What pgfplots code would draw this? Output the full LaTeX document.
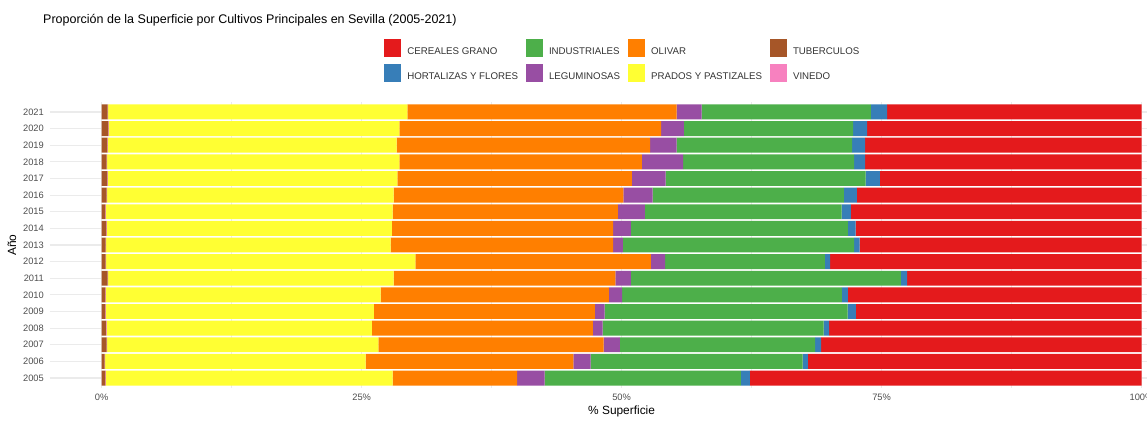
\documentclass[border=0pt]{standalone}
\usepackage{pgfplots}
\usepackage{pgfplotstable}
\pgfplotsset{compat=1.18}
\usepackage{fontspec}
\setmainfont{Liberation Sans}

\definecolor{cCer}{HTML}{E41A1C}
\definecolor{cHor}{HTML}{377EB8}
\definecolor{cInd}{HTML}{4DAF4A}
\definecolor{cLeg}{HTML}{984EA3}
\definecolor{cOli}{HTML}{FF7F00}
\definecolor{cPra}{HTML}{FFFF33}
\definecolor{cTub}{HTML}{A65628}
\definecolor{cVin}{HTML}{F781BF}
\definecolor{grid92}{HTML}{EBEBEB}
\definecolor{grey30}{HTML}{4D4D4D}

\pgfplotstableread{
year tub  vin  pra   oli   leg  ind   hor  cer
2005 0.35 0.05 27.58 11.98 2.64 18.87 0.87 37.66
2006 0.29 0.05 25.04 19.97 1.67 20.38 0.51 32.09
2007 0.48 0.05 26.07 21.67 1.57 18.78 0.57 30.81
2008 0.42 0.05 25.52 21.25 0.93 21.25 0.54 30.04
2009 0.35 0.05 25.78 21.25 0.94 23.36 0.80 27.47
2010 0.35 0.05 26.43 21.95 1.28 21.12 0.58 28.24
2011 0.58 0.05 27.45 21.31 1.50 25.97 0.60 22.54
2012 0.38 0.05 29.73 22.66 1.37 15.36 0.51 29.94
2013 0.38 0.05 27.36 21.40 0.94 22.24 0.51 27.12
2014 0.45 0.05 27.41 21.28 1.70 20.87 0.74 27.50
2015 0.35 0.05 27.58 21.66 2.60 18.91 0.90 27.95
2016 0.48 0.05 27.55 22.08 2.82 18.40 1.25 27.37
2017 0.55 0.05 27.83 22.56 3.24 19.23 1.38 25.16
2018 0.48 0.05 28.09 23.33 3.97 16.45 1.05 26.58
2019 0.55 0.05 27.77 24.38 2.54 16.88 1.25 26.58
2020 0.64 0.05 27.93 25.19 2.18 16.28 1.35 26.38
2021 0.58 0.05 28.76 25.90 2.40 16.28 1.57 24.46
}\datatable

\begin{document}
\begin{tikzpicture}
\begin{axis}[
  at={(0pt,0pt)}, anchor=south west,
  scale only axis,
  width=1143.8pt, height=286pt,
  xbar stacked,
  bar width=0.9,
  xmin=-5, xmax=105,
  ymin=2004.4, ymax=2021.6,
  enlargelimits=false,
  axis line style={draw=none},
  tick style={draw=none},
  xtick={0,25,50,75,100},
  xticklabels={0\%,25\%,50\%,75\%,100\%},
  minor xtick={12.5,37.5,62.5,87.5},
  ytick={2005,...,2021},
  /pgf/number format/assume math mode=true,
  yticklabel style={/pgf/number format/1000 sep={}, font=\fontsize{9.3pt}{10pt}\selectfont, text=grey30, anchor=east, inner sep=0pt, xshift=-5.7pt},
  xticklabel style={font=\fontsize{9.3pt}{10pt}\selectfont, text=grey30, anchor=center, inner sep=0pt, yshift=-9pt},
  xmajorgrids, ymajorgrids, xminorgrids,
  major grid style={draw=grid92, line width=1.1pt},
  minor grid style={draw=grid92, line width=0.55pt},
  xlabel={\% Superficie},
  xlabel style={at={(axis description cs:0.5,0)}, anchor=center, yshift=-23pt, font=\fontsize{11.9pt}{13pt}\selectfont},
  ylabel={Año},
  ylabel style={at={(axis description cs:-0.03296,0.5)}, anchor=center, font=\fontsize{11.9pt}{13pt}\selectfont},
  title={Proporción de la Superficie por Cultivos Principales en Sevilla (2005-2021)},
  title style={at={(axis description cs:0,1)}, anchor=west, xshift=-6.7pt, yshift=76pt, font=\fontsize{12.5pt}{14pt}\selectfont, inner sep=0pt},
  legend columns=4,
  legend image code/.code={\path[#1] (0pt,-5pt) rectangle (17.5pt,12.5pt);},
  legend style={at={(axis description cs:0.5,1)}, anchor=center, yshift=41.5pt,
    draw=none, fill=none, font=\fontsize{9.7pt}{11pt}\selectfont, text=black!80,
    row sep=7.5pt,
    nodes={inner sep=0pt},
    /tikz/every odd column/.append style={column sep=6pt},
    /tikz/every even column/.append style={column sep=7.5pt}},
  legend cell align=left,
]
\addplot[fill=cTub, draw=none, forget plot] table[x=tub, y=year] {\datatable};
\addplot[fill=cVin, draw=none, forget plot] table[x=vin, y=year] {\datatable};
\addplot[fill=cPra, draw=none, forget plot] table[x=pra, y=year] {\datatable};
\addplot[fill=cOli, draw=none, forget plot] table[x=oli, y=year] {\datatable};
\addplot[fill=cLeg, draw=none, forget plot] table[x=leg, y=year] {\datatable};
\addplot[fill=cInd, draw=none, forget plot] table[x=ind, y=year] {\datatable};
\addplot[fill=cHor, draw=none, forget plot] table[x=hor, y=year] {\datatable};
\addplot[fill=cCer, draw=none, forget plot] table[x=cer, y=year] {\datatable};
\addlegendimage{fill=cCer, draw=none}\addlegendentry{CEREALES GRANO}
\addlegendimage{fill=cInd, draw=none}\addlegendentry{INDUSTRIALES}
\addlegendimage{fill=cOli, draw=none}\addlegendentry{OLIVAR}
\addlegendimage{fill=cTub, draw=none}\addlegendentry{TUBERCULOS}
\addlegendimage{fill=cHor, draw=none}\addlegendentry{HORTALIZAS Y FLORES}
\addlegendimage{fill=cLeg, draw=none}\addlegendentry{LEGUMINOSAS}
\addlegendimage{fill=cPra, draw=none}\addlegendentry{PRADOS Y PASTIZALES}
\addlegendimage{fill=cVin, draw=none}\addlegendentry{VINEDO}
\end{axis}
\pgfresetboundingbox
\path[use as bounding box] (-49.7pt,-32pt) rectangle (1097.3pt,388pt);
\end{tikzpicture}
\end{document}
